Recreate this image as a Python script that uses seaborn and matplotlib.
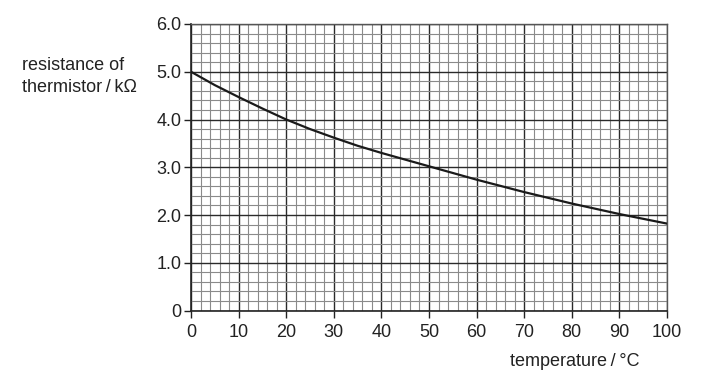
import matplotlib
matplotlib.use("Agg")
import matplotlib.pyplot as plt
import seaborn as sns
import pandas as pd
from matplotlib.ticker import MultipleLocator, FixedLocator

temperature = [0, 5, 10, 15, 20, 25, 30, 35, 40, 45, 50, 55, 60, 65, 70, 75, 80, 85, 90, 95, 100]
resistance = [5.0, 4.72, 4.47, 4.23, 4.0, 3.80, 3.62, 3.45, 3.30, 3.16, 3.02, 2.88, 2.74, 2.61,
              2.48, 2.36, 2.24, 2.13, 2.02, 1.92, 1.82]
x_ticks = [0, 10, 20, 30, 40, 50, 60, 70, 80, 90, 100]
y_ticks = [0, 1, 2, 3, 4, 5, 6]
y_tick_labels = ["0", "1.0", "2.0", "3.0", "4.0", "5.0", "6.0"]

sns.set_style("white")
plt.rcParams['font.family'] = ['Liberation Sans', 'DejaVu Sans']

df = pd.DataFrame({"t": temperature, "r": resistance})

W, H = 701, 374
fig = plt.figure(figsize=(W / 100, H / 100), dpi=100)
left, right, top, bottom = 191, 667, 24, 310.5
ax = fig.add_axes([left / W, 1 - bottom / H, (right - left) / W, (bottom - top) / H])

sns.lineplot(data=df, x="t", y="r", ax=ax, color="#1a1a1a", linewidth=1.6, zorder=5)

ax.set_xlim(0, 100)
ax.set_ylim(0, 6)
ax.xaxis.set_major_locator(FixedLocator(x_ticks))
ax.yaxis.set_major_locator(FixedLocator(y_ticks))
ax.set_yticklabels(y_tick_labels)
ax.xaxis.set_minor_locator(MultipleLocator(2))
ax.yaxis.set_minor_locator(MultipleLocator(0.2))

ax.grid(which="minor", color="#8a8a8a", linewidth=0.8)
ax.grid(which="major", color="#2a2a2a", linewidth=1.0)
ax.set_axisbelow(True)

ax.tick_params(which="major", direction="out", length=5, width=1.0, color="#222222",
               labelsize=13, labelcolor="#222222", left=True, bottom=True)
ax.tick_params(axis="y", which="major", pad=2)
ax.tick_params(axis="x", which="major", pad=4.5)
ax.tick_params(which="minor", length=0)

for side in ["left", "bottom"]:
    ax.spines[side].set_color("#222222")
    ax.spines[side].set_linewidth(1.2)
for side in ["top", "right"]:
    ax.spines[side].set_color("#555555")
    ax.spines[side].set_linewidth(1.0)

ax.set_xlabel("")
ax.set_ylabel("")

fig.text(22 / W, 1 - 65 / H, "resistance of", fontsize=13, color="#222222",
         ha="left", va="center")
fig.text(22 / W, 1 - 88 / H, "thermistor\u2009/\u2009k\u03A9", fontsize=13, color="#222222",
         ha="left", va="center")
fig.text(639 / W, 1 - 362 / H, "temperature\u2009/\u2009°C", fontsize=13, color="#222222",
         ha="right", va="center")

fig.savefig("out.png", dpi=100)
